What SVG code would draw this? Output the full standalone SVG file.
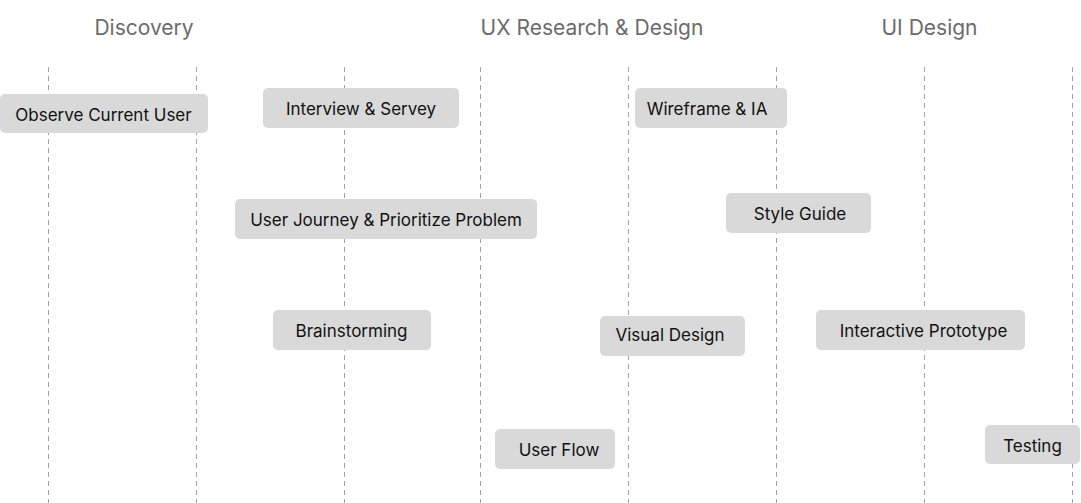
<svg xmlns="http://www.w3.org/2000/svg" width="1081" height="503" viewBox="0 0 1081 503">
<style>
.hdr{font-family:Inter,"Open Sans","Liberation Sans",sans-serif;font-size:21px;fill:#6b6b6b;text-anchor:middle}
.box{fill:#d9d9d9}
.lbl{font-family:Inter,"Open Sans","Liberation Sans",sans-serif;font-size:17px;fill:#111;text-anchor:middle}
.grid{stroke:#a0a0a0;stroke-width:1;stroke-dasharray:5 4;fill:none}
</style>
<rect width="1081" height="503" fill="#fff"/>
<g id="headers">
<text class="hdr" x="144" y="34.5">Discovery</text>
<text class="hdr" x="592" y="34.5">UX Research &amp; Design</text>
<text class="hdr" x="929.5" y="34.5">UI Design</text>
</g>
<g id="connectors">
<line class="grid" x1="48.5" y1="67" x2="48.5" y2="503"/>
<line class="grid" x1="196.5" y1="67" x2="196.5" y2="503"/>
<line class="grid" x1="344.5" y1="67" x2="344.5" y2="503"/>
<line class="grid" x1="480.5" y1="67" x2="480.5" y2="503"/>
<line class="grid" x1="628.5" y1="67" x2="628.5" y2="503"/>
<line class="grid" x1="776.5" y1="67" x2="776.5" y2="503"/>
<line class="grid" x1="924.5" y1="67" x2="924.5" y2="503"/>
<line class="grid" x1="1072.5" y1="67" x2="1072.5" y2="503"/>
</g>
<g id="observe"><rect class="box" x="0" y="94" width="208" height="39" rx="5"/><text class="lbl" x="103.5" y="120.5">Observe Current User</text></g>
<g id="interview"><rect class="box" x="263" y="88" width="196" height="40" rx="5"/><text class="lbl" x="361" y="114.5">Interview &amp; Servey</text></g>
<g id="journey"><rect class="box" x="235" y="199" width="302" height="40" rx="5"/><text class="lbl" x="386" y="225.5">User Journey &amp; Prioritize Problem</text></g>
<g id="brainstorming"><rect class="box" x="273" y="310" width="158" height="40" rx="5"/><text class="lbl" x="351.5" y="336.5">Brainstorming</text></g>
<g id="userflow"><rect class="box" x="495" y="429" width="120" height="40" rx="5"/><text class="lbl" x="559" y="455.5">User Flow</text></g>
<g id="wireframe"><rect class="box" x="635" y="88" width="152" height="40" rx="5"/><text class="lbl" x="707" y="114.5">Wireframe &amp; IA</text></g>
<g id="styleguide"><rect class="box" x="726" y="193" width="145" height="40" rx="5"/><text class="lbl" x="800" y="219.5">Style Guide</text></g>
<g id="visual"><rect class="box" x="600" y="316" width="145" height="40" rx="5"/><text class="lbl" x="670" y="340.5">Visual Design</text></g>
<g id="prototype"><rect class="box" x="816" y="310" width="209" height="40" rx="5"/><text class="lbl" x="923.5" y="336.5">Interactive Prototype</text></g>
<g id="testing"><rect class="box" x="985" y="425" width="95" height="39" rx="5"/><text class="lbl" x="1032.5" y="451.5">Testing</text></g>
</svg>
